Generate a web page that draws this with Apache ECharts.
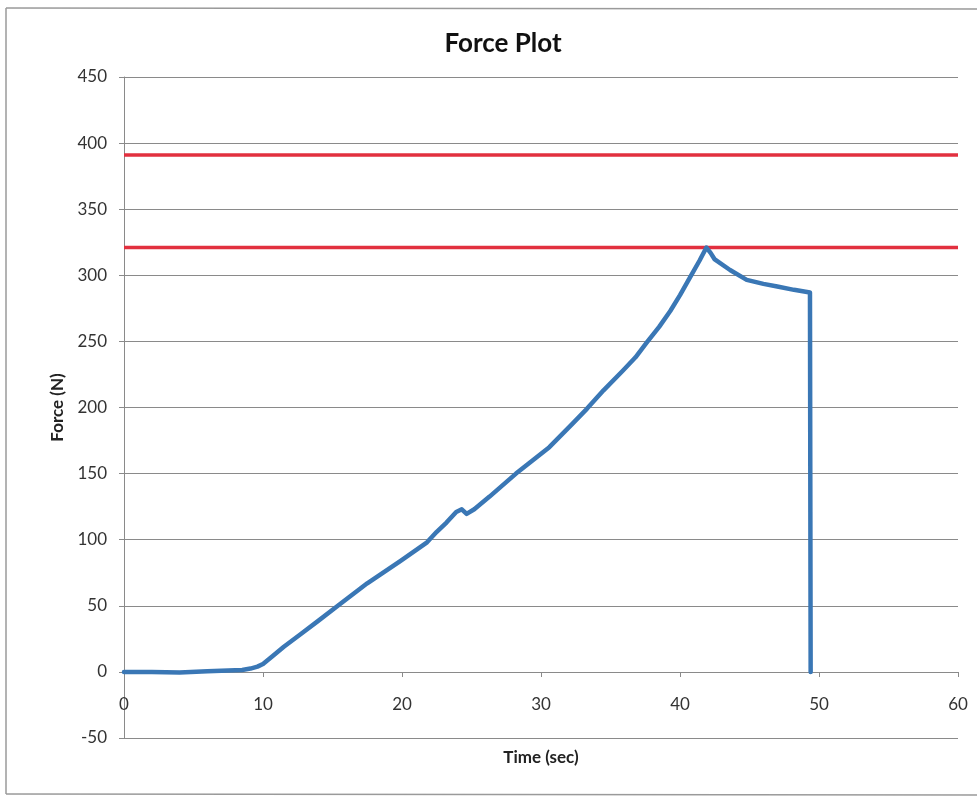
<!DOCTYPE html>
<html>
<head>
<meta charset="utf-8">
<script src="https://cdn.jsdelivr.net/npm/echarts@6/dist/echarts.min.js"></script>
<style>
html,body{margin:0;padding:0;background:#fff;}
#chart{width:977px;height:797px;}
</style>
</head>
<body>
<div id="chart"></div>
<script>
// Data
var timeSec = [0, 2, 4, 6, 7.5, 8.5, 9.1, 9.6, 10, 10.7, 11.5, 12.7, 13.9, 15.5, 17.5, 19.9, 21.8, 22.5, 23.2, 23.9, 24.3, 24.65, 25.2, 26.3, 28.2, 30.6, 32.2, 33.3, 34.5, 35.9, 36.8, 37.6, 38.5, 39.3, 40, 40.7, 41.4, 41.9, 42.2, 42.5, 43.6, 44.8, 46, 47, 48.2, 49.35, 49.4];
var forceN  = [0, 0, -0.5, 0.5, 1, 1.5, 2.5, 4, 6, 12, 19, 28.5, 38, 51, 67, 84, 98, 106, 113, 121, 123, 119.5, 123, 132.6, 150, 170, 187, 199, 213, 228, 238, 249, 261, 273, 285, 298, 311, 321, 317, 312, 304, 296.5, 293.5, 291.5, 289, 287, 0];
var limitHigh = 391;
var limitLow = 321;
var xTicks = [0, 10, 20, 30, 40, 50, 60];
var yTicks = [-50, 0, 50, 100, 150, 200, 250, 300, 350, 400, 450];

var font = 'Lato, "Open Sans", sans-serif';
var pairs = timeSec.map(function (t, i) { return [t, forceN[i]]; });

var chart = echarts.init(document.getElementById('chart'), null, {renderer: 'canvas'});
chart.setOption({
  animation: false,
  backgroundColor: '#fff',
  title: {
    text: 'Force Plot',
    left: 498, top: 26, textAlign: 'center',
    textStyle: {fontFamily: font, fontSize: 26, fontWeight: 'bold', color: '#111'}
  },
  grid: {left: 124, right: 19, top: 77, bottom: 59, containLabel: false, outerBoundsMode: 'none'},
  xAxis: {
    type: 'value', min: xTicks[0], max: xTicks[xTicks.length - 1], interval: 10,
    position: 'bottom', offset: -66,
    name: 'Time (sec)', nameLocation: 'middle', nameGap: 77,
    nameTextStyle: {fontFamily: font, fontSize: 17, fontWeight: 'bold', color: '#222'},
    axisLine: {onZero: false, lineStyle: {color: '#8a8a8a', width: 1}},
    axisTick: {show: true, length: 5, lineStyle: {color: '#8a8a8a'}},
    axisLabel: {margin: 24, fontFamily: font, fontSize: 17, color: '#333'},
    splitLine: {show: false}
  },
  yAxis: {
    type: 'value', min: yTicks[0], max: yTicks[yTicks.length - 1], interval: 50,
    name: 'Force (N)', nameLocation: 'middle', nameGap: 58, nameRotate: 90,
    nameTextStyle: {fontFamily: font, fontSize: 17, fontWeight: 'bold', color: '#222'},
    axisLine: {show: true, lineStyle: {color: '#8a8a8a', width: 1}},
    axisTick: {show: true, length: 5, lineStyle: {color: '#8a8a8a'}},
    axisLabel: {margin: 17, fontFamily: font, fontSize: 17, color: '#333'},
    splitLine: {show: true, lineStyle: {color: '#8a8a8a', width: 1}}
  },
  series: [
    {
      name: 'Upper limit', type: 'line', symbol: 'none',
      data: [[xTicks[0], limitHigh], [xTicks[xTicks.length - 1], limitHigh]],
      lineStyle: {color: '#e2303f', width: 3.5}, z: 3
    },
    {
      name: 'Lower limit', type: 'line', symbol: 'none',
      data: [[xTicks[0], limitLow], [xTicks[xTicks.length - 1], limitLow]],
      lineStyle: {color: '#e2303f', width: 3.5}, z: 3
    },
    {
      name: 'Force', type: 'line', symbol: 'none',
      data: pairs,
      lineStyle: {color: '#3a77b5', width: 4.5, join: 'round', cap: 'round'}, z: 4
    }
  ],
  graphic: [
    {type: 'line', shape: {x1: 6, y1: 8, x2: 977, y2: 9}, style: {stroke: '#9a9a9a', lineWidth: 1.5}},
    {type: 'line', shape: {x1: 6, y1: 8, x2: 6, y2: 794}, style: {stroke: '#9a9a9a', lineWidth: 1.5}},
    {type: 'line', shape: {x1: 6, y1: 794, x2: 977, y2: 795}, style: {stroke: '#9a9a9a', lineWidth: 1.5}}
  ]
});
</script>
</body>
</html>
